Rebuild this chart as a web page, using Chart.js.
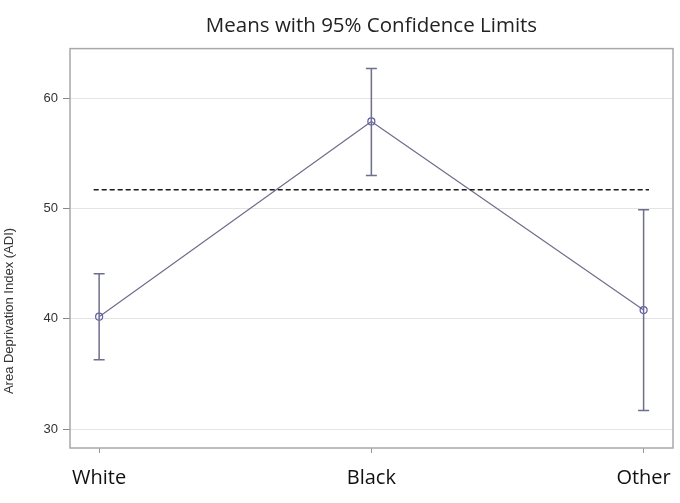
<!DOCTYPE html>
<html>
<head>
<meta charset="utf-8">
<script src="https://cdn.jsdelivr.net/npm/chart.js@4.4.0/dist/chart.umd.min.js"></script>
<style>
  html, body { margin: 0; padding: 0; background: #fff; }
  #wrap { width: 680px; height: 503px; }
</style>
</head>
<body>
<div id="wrap"><canvas id="ci-chart" width="680" height="503"></canvas></div>
<script>
// means with 95% CI - data
var categories = ["White", "Black", "Other"];
var means = [40.2, 57.9, 40.8];
var lowerCL = [36.3, 53.0, 31.7];
var upperCL = [44.1, 62.7, 49.9];
var overallMean = 51.7;
var yTicks = [30, 40, 50, 60];

var lineColor = "#6e6e8e";

var datasets = [];
// error bars, one little dataset per category
categories.forEach(function (c, i) {
  datasets.push({
    data: [{ x: i, y: lowerCL[i] }, { x: i, y: upperCL[i] }],
    showLine: true,
    borderColor: lineColor,
    borderWidth: 1.5,
    pointStyle: 'line',
    pointRadius: 5.5,
    pointBorderColor: lineColor,
    pointBorderWidth: 1.5,
    pointHoverRadius: 5.5
  });
});
// overall mean reference line
datasets.push({
  data: [{ x: -0.02, y: overallMean }, { x: 2.02, y: overallMean }],
  showLine: true,
  borderColor: "#1a1a1a",
  borderWidth: 1.6,
  borderDash: [5, 3],
  pointRadius: 0
});
// means
datasets.push({
  data: means.map(function (m, i) { return { x: i, y: m }; }),
  showLine: true,
  borderColor: lineColor,
  borderWidth: 1.2,
  pointStyle: 'circle',
  pointRadius: 3.5,
  pointBackgroundColor: "rgba(255,255,255,0)",
  pointBorderColor: "#5b5ba8",
  pointBorderWidth: 1.2,
  tension: 0
});

var frame = {
  id: 'frame',
  afterDraw: function (chart) {
    var ctx = chart.ctx, a = chart.chartArea;
    ctx.save();
    ctx.strokeStyle = "#a8a8a8";
    ctx.lineWidth = 1.5;
    ctx.strokeRect(a.left, a.top, a.right - a.left, a.bottom - a.top);
    // y axis title
    ctx.translate(9, 311);
    ctx.rotate(-Math.PI / 2);
    ctx.fillStyle = "#333";
    ctx.font = "13px 'Liberation Sans', Arial, sans-serif";
    ctx.textAlign = "center";
    ctx.textBaseline = "middle";
    ctx.fillText("Area Deprivation Index (ADI)", 0, 0);
    ctx.restore();
  }
};

new Chart(document.getElementById("ci-chart"), {
  type: 'scatter',
  data: { datasets: datasets },
  plugins: [frame],
  options: {
    responsive: false,
    animation: false,
    layout: { padding: { left: 0, right: -4, top: 0, bottom: 0 } },
    plugins: {
      legend: { display: false },
      tooltip: { enabled: false },
      title: {
        display: true,
        fullSize: false,
        text: 'Means with 95% Confidence Limits',
        color: '#222',
        font: { family: "'Open Sans', 'Noto Sans', sans-serif", size: 20.5, weight: 'normal' },
        padding: { top: 14, bottom: 10 }
      }
    },
    scales: {
      x: {
        type: 'linear',
        min: -0.107,
        max: 2.108,
        afterBuildTicks: function (s) { s.ticks = categories.map(function (c, i) { return { value: i }; }); },
        afterFit: function (s) { s.height = 55; s.paddingLeft = 0; s.paddingRight = 0; },
        border: { display: false },
        grid: { drawOnChartArea: false, tickLength: 5, color: '#999' },
        ticks: {
          padding: 13,
          color: '#111',
          font: { family: "'Open Sans', 'Noto Sans', sans-serif", size: 20 },
          callback: function (v) { return categories[v]; }
        }
      },
      y: {
        min: 28.3,
        max: 64.5,
        afterBuildTicks: function (s) { s.ticks = yTicks.map(function (v) { return { value: v }; }); },
        afterFit: function (s) { s.width = 70; s.paddingTop = 0; s.paddingBottom = 0; },
        border: { display: false },
        grid: { color: '#e4e4e4', tickColor: '#888', tickLength: 7, lineWidth: 1 },
        ticks: {
          padding: 5,
          color: '#333',
          font: { family: "'Liberation Sans', Arial, sans-serif", size: 13 }
        }
      }
    }
  }
});
</script>
</body>
</html>
